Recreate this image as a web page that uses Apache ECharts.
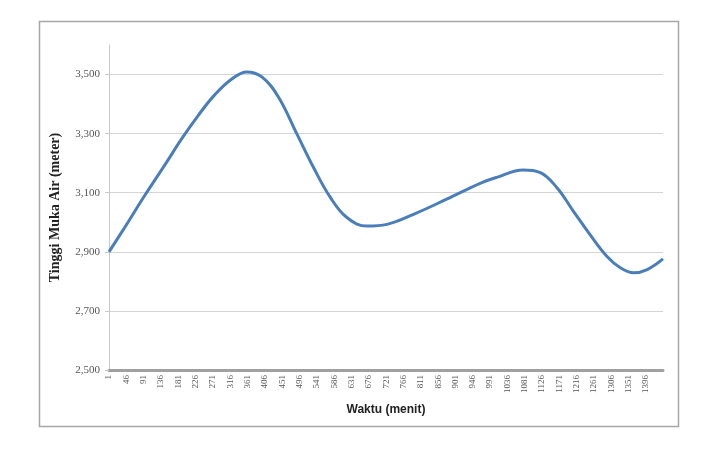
<!DOCTYPE html>
<html>
<head>
<meta charset="utf-8">
<script src="https://cdn.jsdelivr.net/npm/echarts@6/dist/echarts.min.js"></script>
<style>
  html, body { margin: 0; padding: 0; background: #fff; }
  #chart { width: 712px; height: 452px; }
</style>
</head>
<body>
<div id="chart"></div>
<script>
// waktu (menit) dan tinggi muka air (meter)
const minutes = [1, 43, 95, 147, 190, 233, 276, 320, 359, 398, 441, 489, 532, 576, 619, 671, 723, 792, 878, 965, 1008, 1077, 1120, 1164, 1207, 1250, 1294, 1329, 1364, 1399, 1440]
const waterLevel = [2.900, 2.985, 3.093, 3.196, 3.283, 3.362, 3.432, 3.485, 3.509, 3.492, 3.424, 3.299, 3.186, 3.084, 3.016, 2.987, 2.993, 3.027, 3.078, 3.132, 3.152, 3.177, 3.169, 3.118, 3.038, 2.959, 2.885, 2.846, 2.829, 2.840, 2.876]

// label sumbu x: 1, 46, 91, ... 1396
const xTickLabels = [1, 46, 91, 136, 181, 226, 271, 316, 361, 406, 451, 496, 541, 586, 631, 676, 721, 766, 811, 856, 901, 946, 991, 1036, 1081, 1126, 1171, 1216, 1261, 1306, 1351, 1396]

const chart = echarts.init(document.getElementById('chart'))

const getOptions = () => {
    return {
        backgroundColor: '#fff',
        animation: false,
        graphic: [
            {
                type: 'rect',
                shape: { x: 39.5, y: 21.5, width: 639, height: 405 },
                style: { fill: 'none', stroke: '#a6a6a6', lineWidth: 1.5 },
                z: -1
            }
        ],
        grid: {
            left: 109,
            right: 49,
            top: 45,
            bottom: 82
        },
        xAxis: {
            type: 'value',
            min: 1,
            max: 1440,
            name: 'Waktu (menit)',
            nameLocation: 'middle',
            nameGap: 34,
            nameTextStyle: {
                fontFamily: 'Liberation Sans',
                fontWeight: 'bold',
                fontSize: 12,
                color: '#222'
            },
            axisLine: {
                lineStyle: { color: '#a0a0a0', width: 3 }
            },
            axisTick: { show: false },
            splitLine: { show: false },
            axisLabel: {
                customValues: xTickLabels,
                rotate: 90,
                margin: 5,
                fontFamily: 'Liberation Serif',
                fontSize: 9,
                color: '#555',
                formatter: (v) => String(v)
            }
        },
        yAxis: {
            type: 'value',
            min: 2.5,
            max: 3.6,
            interval: 0.2,
            name: 'Tinggi Muka Air (meter)',
            nameLocation: 'middle',
            nameGap: 47,
            nameTextStyle: {
                fontFamily: 'Liberation Serif',
                fontWeight: 'bold',
                fontSize: 14,
                color: '#222'
            },
            axisLine: {
                show: true,
                lineStyle: { color: '#c8c8c8', width: 1 }
            },
            axisTick: {
                show: true,
                length: 4,
                lineStyle: { color: '#c8c8c8' }
            },
            axisLabel: {
                showMaxLabel: false,
                margin: 9,
                fontFamily: 'Liberation Serif',
                fontSize: 11,
                color: '#555',
                formatter: (v) => v.toFixed(3).replace('.', ',')
            },
            splitLine: {
                showMaxLine: false,
                lineStyle: { color: '#d4d4d4', width: 1 }
            }
        },
        series: [
            {
                type: 'line',
                data: minutes.map((m, i) => [m, waterLevel[i]]),
                smooth: 0.4,
                symbol: 'none',
                lineStyle: {
                    color: '#4a7ebb',
                    width: 3
                }
            }
        ]
    }
}

chart.setOption(getOptions())
</script>
</body>
</html>
